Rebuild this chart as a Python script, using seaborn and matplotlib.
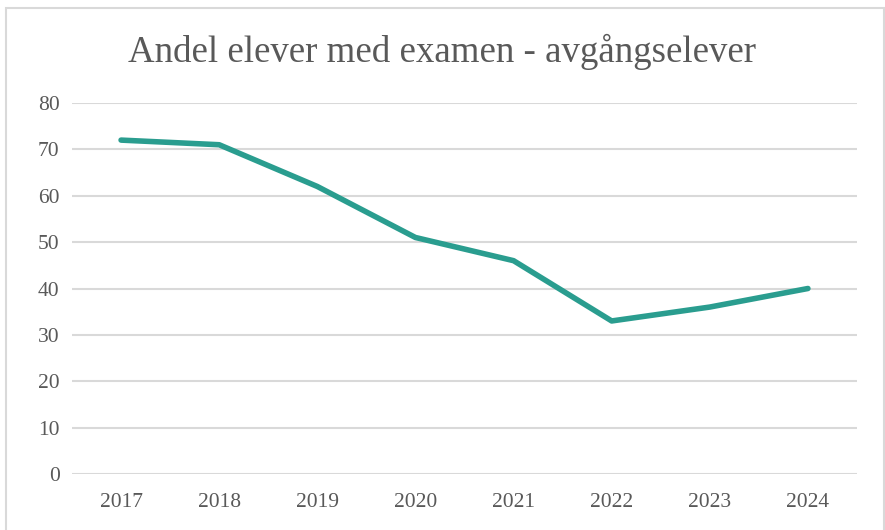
import matplotlib
matplotlib.use("Agg")
import matplotlib.pyplot as plt
import pandas as pd
import seaborn as sns
from matplotlib.patches import Rectangle

# data
years = ["2017", "2018", "2019", "2020", "2021", "2022", "2023", "2024"]
andel = [72, 71, 62, 51, 46, 33, 36, 40]

df = pd.DataFrame({"year": years, "andel": andel})

sns.set_style("white")
plt.rcParams["font.family"] = ["Liberation Serif", "DejaVu Serif"]

fig = plt.figure(figsize=(8.85, 5.3), dpi=100)
ax = fig.add_axes([72 / 885, 56 / 530, 785 / 885, 371 / 530])

sns.lineplot(data=df, x="year", y="andel", sort=False, color="#2A9D8F",
             linewidth=4, solid_capstyle="round", solid_joinstyle="round",
             ax=ax, zorder=3)

ax.set_xlim(-0.5, len(years) - 0.5)
ax.set_ylim(0, 80)
ax.set_yticks(range(0, 81, 10))
ax.yaxis.grid(True, color="#d9d9d9", linewidth=1.5)
ax.set_axisbelow(True)
for s in ax.spines.values():
    s.set_visible(False)
ax.tick_params(axis="both", length=0, labelsize=15.5, colors="#595959")
ax.tick_params(axis="x", pad=14)
ax.tick_params(axis="y", pad=9)
ax.set_xlabel("")
ax.set_ylabel("")

fig.text(0.5, 1 - 52 / 530, "Andel elever med examen - avgångselever",
         ha="center", va="center", fontsize=26.6, color="#595959")

# chart area border
fig.patches.append(Rectangle((6 / 885, -0.02), 878 / 885, 1 - 8 / 530 + 0.02,
                             transform=fig.transFigure, fill=False,
                             edgecolor="#d9d9d9", linewidth=1.5))

fig.savefig("out.png", dpi=100)
